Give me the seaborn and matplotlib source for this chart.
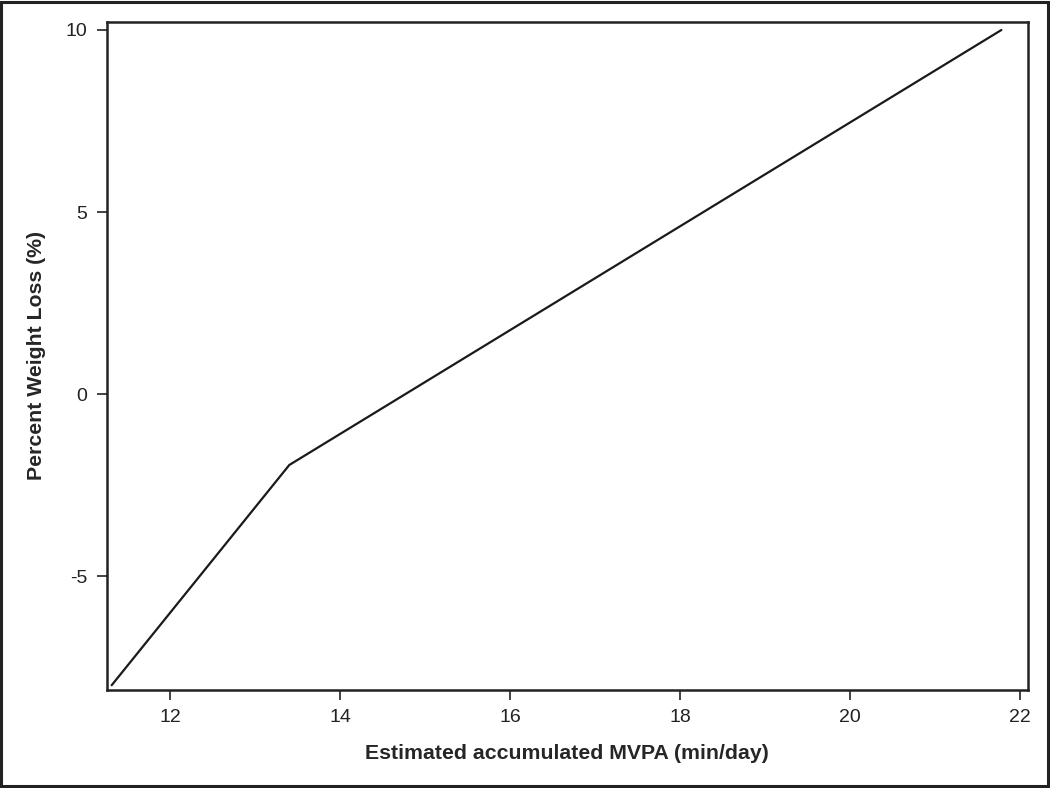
import matplotlib
matplotlib.use("Agg")
import matplotlib.pyplot as plt
import seaborn as sns
import pandas as pd
from matplotlib.patches import Rectangle

# data
mvpa = [11.31, 13.40, 21.78]
weight_loss = [-8.0, -1.95, 10.0]
x_ticks = [12, 14, 16, 18, 20, 22]
y_ticks = [-5, 0, 5, 10]

df = pd.DataFrame({"mvpa": mvpa, "loss": weight_loss})

sns.set_style("ticks")
plt.rcParams['font.family'] = ['Liberation Sans', 'DejaVu Sans']
plt.rcParams['axes.unicode_minus'] = False

fig = plt.figure(figsize=(10.5, 7.88), dpi=100)
ax = fig.add_axes([0.1019, 0.1244, 0.8769, 0.8477])

sns.lineplot(data=df, x="mvpa", y="loss", ax=ax, color="#1a1a1a", linewidth=1.6, sort=False)

ax.set_xlim(11.255, 22.09)
ax.set_ylim(-8.13, 10.22)
ax.set_xticks(x_ticks)
ax.set_yticks(y_ticks)
ax.tick_params(axis='both', direction='out', length=7, width=1.3, color='#333333',
               labelsize=14, pad=7, labelcolor='#222222')

for s in ax.spines.values():
    s.set_visible(True)
    s.set_color('#222222')
    s.set_linewidth(1.8)

ax.set_xlabel("Estimated accumulated MVPA (min/day)", fontsize=15.3, fontweight='bold', labelpad=13)
ax.set_ylabel("Percent Weight Loss (%)", fontsize=15.3, fontweight='bold', labelpad=14)

# outer frame around the whole figure
fig.patches.append(Rectangle((0.001, 0.002), 0.997, 0.996, transform=fig.transFigure,
                             fill=False, edgecolor='#222222', linewidth=2.2))

fig.savefig("out.png", dpi=100)
